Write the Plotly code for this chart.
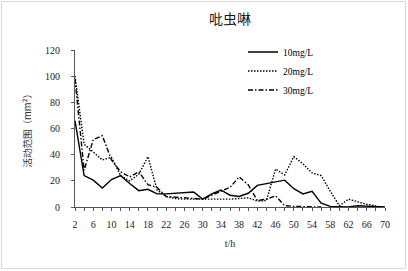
import plotly.graph_objects as go

hours = list(range(2, 72, 2))
tick_labels = [str(h) for h in range(2, 72, 4)]

s10 = [66, 24, 20.5, 14.5, 21, 24, 18, 12.5, 13.5, 10, 10, 10.5, 11, 11.5, 6, 10,
       13, 9, 8, 10.5, 16.5, 18, 19.5, 20.5, 14, 10, 12, 3, 0.5, 0, 0, 1, 0.5, 0, 0]
s20 = [100, 48, 42, 36, 38, 24, 20, 25, 38.5, 13, 8, 6.5, 6, 6, 5.5, 6,
       6, 6, 6.5, 7, 4.5, 5, 29, 24.5, 38.5, 33, 26, 24, 12, 1, 6, 4, 2, 1, None]
s30 = [98, 28, 51.5, 54.5, 36, 27, 23, 27, 17, 15, 8, 7.5, 7, 7, 6, 9,
       12, 15, 23, 17, 5, 6, 8.5, 1, 0.5, 0.5, 0, 0, None, None, None, None, None, None, None]

names = ["10mg/L", "20mg/L", "30mg/L"]
dashes = ["solid", "1.5px,1.5px", "5px,2px,1.5px,2px"]

serif = "Liberation Serif"
cjk = "Noto Sans CJK SC"

fig = go.Figure()
for name, ys, d in zip(names, [s10, s20, s30], dashes):
    fig.add_trace(go.Scatter(x=hours, y=ys, mode="lines", name=name,
                             line=dict(color="black", width=1.4, dash=d),
                             connectgaps=False))

W, H = 408, 271
L, R, T, B = 75, 23, 50, 64
pw, ph = W - L - R, H - T - B

fig.update_layout(
    width=W, height=H,
    margin=dict(l=L, r=R, t=T, b=B, autoexpand=False),
    paper_bgcolor="white", plot_bgcolor="white",
    showlegend=True,
    legend=dict(x=(243 - L) / pw, y=1.08, xanchor="left", yanchor="top",
                bgcolor="rgba(0,0,0,0)", font=dict(family=serif, size=9.5, color="black"),
                itemwidth=30, tracegroupgap=0),
    title=dict(text="吡虫啉", x=0.5, xref="paper", xanchor="center", y=1 - 19 / H, yref="container",
               yanchor="middle", font=dict(family=cjk, size=14, color="#1a1a1a")),
    xaxis=dict(range=[2, 70], tickvals=list(range(2, 72, 4)), ticktext=tick_labels,
               ticks="outside", ticklen=3, tickcolor="#555", showline=True, linecolor="#555",
               linewidth=1, showgrid=False, zeroline=False,
               minor=dict(dtick=2, tick0=2, ticks="outside", ticklen=3, tickcolor="#555"),
               tickfont=dict(family=serif, size=10, color="#222"), ticklabelstandoff=5,
               title=dict(text="t/h", font=dict(family=serif, size=10, color="#222"), standoff=10)),
    yaxis=dict(range=[0, 120], dtick=20, ticks="outside", ticklen=3, tickcolor="#555",
               showline=True, linecolor="#555", linewidth=1, showgrid=False, zeroline=False,
               tickfont=dict(family=serif, size=10, color="#222"), ticklabelstandoff=9),
)

fig.add_annotation(text="活动范围（mm²）", xref="paper", yref="paper",
                   x=(17 - L) / pw, y=0.5, textangle=-90, showarrow=False,
                   font=dict(family=cjk, size=9.5, color="#333"))

fig.add_shape(type="rect", xref="paper", yref="paper",
              x0=(1.5 - L) / pw, x1=(405.5 - L) / pw,
              y0=-(268.5 - (T + ph)) / ph, y1=1 + (T - 1.5) / ph,
              line=dict(color="#d9d9d9", width=1), fillcolor="rgba(0,0,0,0)", layer="below")

fig.write_html("out.html", config={"displayModeBar": False},
               post_script="document.body.style.margin='0';document.body.style.overflow='hidden';")
